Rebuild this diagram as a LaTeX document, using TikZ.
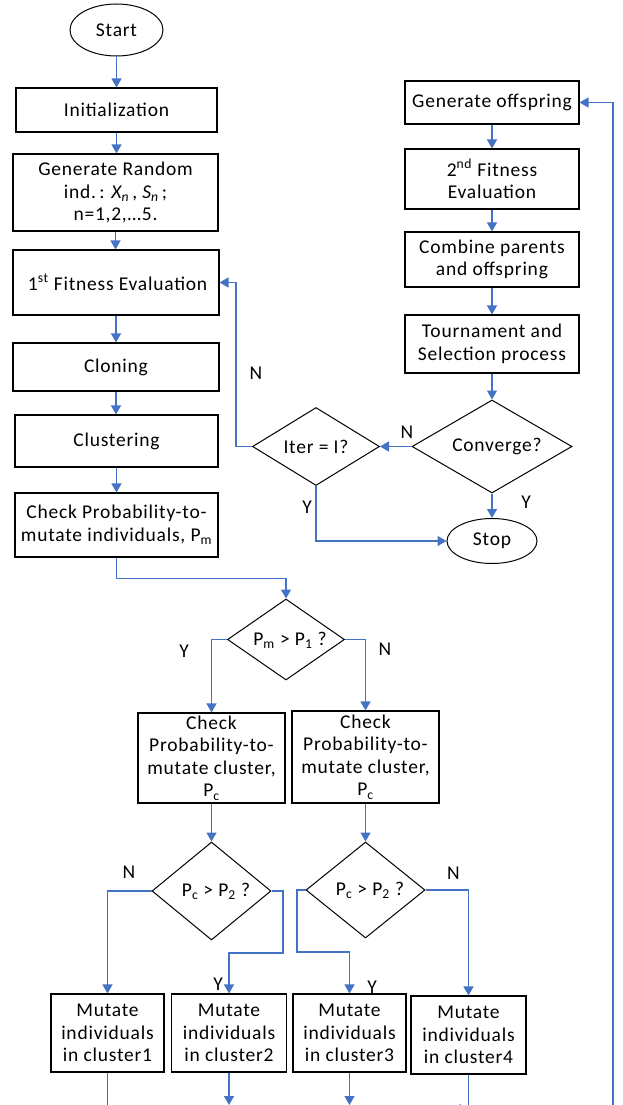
\documentclass[tikz,border=0pt]{standalone}
\usepackage{fontspec}
\setmainfont[LetterSpace=4]{Carlito}
\usetikzlibrary{shapes.geometric,arrows.meta}
\definecolor{flowblue}{HTML}{4472C4}
\begin{document}
\begin{tikzpicture}[x=1pt,y=-1pt,
  font=\fontsize{19.5}{22.5}\selectfont,
  box/.style={draw=black, line width=1.1pt, rectangle, inner sep=0pt, align=center},
  dia/.style={draw=black, line width=1pt, diamond, inner sep=0pt},
  term/.style={draw=black, line width=1pt, ellipse, inner sep=0pt},
  conn/.style={draw=flowblue, line width=1.3pt},
  arr/.style={conn, -{Triangle[length=9pt,width=10pt]}},
  lbl/.style={inner sep=0pt},
  txt/.style={inner sep=0pt, align=center}
]
\useasboundingbox (0,0) rectangle (623,1105);
\clip (0,0) rectangle (623,1105);

% ---------- left column ----------
\node[term, minimum width=93pt, minimum height=52pt] (start) at (116.5,30) {Start};
\node[box, minimum width=201pt, minimum height=44pt] (init) at (116.5,110) {Initialization};
\node[box, minimum width=205pt, minimum height=77pt] (genrand) at (115.5,192.5)
  {Generate Random\\ind.\,: \textit{X\textsubscript{n}}\,, \textit{S\textsubscript{n}}\,;\\n=1,2,\ldots5.};
\node[box, minimum width=206pt, minimum height=65pt] (fit1) at (116,282.5) {\,1\textsuperscript{st} Fitness Evaluation};
\node[box, minimum width=206pt, minimum height=48pt] (clone) at (116,367) {Cloning};
\node[box, minimum width=203pt, minimum height=52pt] (clus) at (116.5,441) {Clustering};
\node[box, minimum width=203pt, minimum height=64pt] (chkpm) at (116.5,525)
  {Check Probability-to-\\mutate individuals, P\textsubscript{m}};

% ---------- right column ----------
\node[box, minimum width=174pt, minimum height=43pt] (genoff) at (492,102.5) {Generate offspring};
\node[box, minimum width=174pt, minimum height=60pt] (fit2) at (492,179) {2\textsuperscript{nd} Fitness\\Evaluation};
\node[box, minimum width=174pt, minimum height=55pt] (comb) at (492,259.5) {Combine parents\\and offspring};
\node[box, minimum width=174pt, minimum height=58pt] (tour) at (492,344) {Tournament and\\Selection process};
\node[dia, minimum width=160pt, minimum height=93pt] (conv) at (492,446.5) {};
\node[txt] (convT) at (497,446.5) {Converge?};
\node[dia, minimum width=127pt, minimum height=78pt] (iter) at (316,446.5) {};
\node[txt] (iterT) at (316,446.5) {Iter = I?};
\node[term, minimum width=90pt, minimum height=45pt] (stop) at (492,541) {Stop};

% ---------- lower part ----------
\node[dia, minimum width=117pt, minimum height=81pt] (pm) at (286,639.5) {};
\node[txt] (pmT) at (290,640) {P\textsubscript{m} > P\textsubscript{1} ?};
\node[box, minimum width=147pt, minimum height=90pt] (chkc1) at (211.5,758)
  {Check\\Probability-to-\\mutate cluster,\\P\textsubscript{c}};
\node[box, minimum width=147pt, minimum height=92pt] (chkc2) at (365.5,757)
  {Check\\Probability-to-\\mutate cluster,\\P\textsubscript{c}};
\node[dia, minimum width=119pt, minimum height=98pt] (pc1) at (211.5,891) {};
\node[txt] (pc1T) at (216,891) {P\textsubscript{c} > P\textsubscript{2} ?};
\node[dia, minimum width=119pt, minimum height=96pt] (pc2) at (365.5,890) {};
\node[txt] (pc2T) at (370,890) {P\textsubscript{c} > P\textsubscript{2} ?};
\node[box, minimum width=113pt, minimum height=78pt] (m1) at (107.5,1033) {Mutate\\individuals\\in cluster1};
\node[box, minimum width=114.5pt, minimum height=78pt] (m2) at (229,1033) {Mutate\\individuals\\in cluster2};
\node[box, minimum width=113pt, minimum height=78pt] (m3) at (349.5,1033) {Mutate\\individuals\\in cluster3};
\node[box, minimum width=115pt, minimum height=78pt] (m4) at (468.5,1035) {Mutate\\individuals\\in cluster4};

% ---------- helper coordinates ----------
\coordinate (k1) at (283,953);
\coordinate (k2) at (297,952);
\coordinate (k3) at (236,282.5);
\coordinate (b1) at (107.5,1112);
\coordinate (b2) at (229,1105);
\coordinate (b3) at (349.5,1105);
\coordinate (b4) at (468.5,1112);
\coordinate (b5) at (400,1109);
\coordinate (b6) at (613,1112);

% ---------- connectors ----------
\draw[arr] (start.south) -- (start.south |- init.north);
\draw[arr] (init.south) -- (init.south |- genrand.north);
\draw[arr] (genrand.south) -- (genrand.south |- fit1.north);
\draw[arr] (fit1.south) -- (fit1.south |- clone.north);
\draw[arr] (clone.south) -- (clone.south |- clus.north);
\draw[arr] (clus.south) -- (clus.south |- chkpm.north);
\draw[arr] (chkpm.south) -- ++(0,21) -| (pm.north);

\draw[arr] (genoff.south) -- (genoff.south |- fit2.north);
\draw[arr] (fit2.south) -- (fit2.south |- comb.north);
\draw[arr] (comb.south) -- (comb.south |- tour.north);
\draw[arr] (tour.south) -- (tour.south |- conv.north);
\draw[arr] (conv.south) -- (conv.south |- stop.north);
\draw[arr] (conv.west) -- (conv.west -| iter.east);
\draw[arr] (iter.south) |- (stop.west);
\draw[arr] (iter.west) -| (k3) -- (fit1.east);
\draw[arr] (b6) |- (genoff.east);

\draw[arr] (pm.west) -| (chkc1.north);
\draw[arr] (pm.east) -| (chkc2.north);
\draw[arr] (chkc1.south) -- (chkc1.south |- pc1.north);
\draw[arr] (chkc2.south) -- (chkc2.south |- pc2.north);
\draw[arr] (pc1.west) -| (m1.north);
\draw[arr] (pc1.east) -| (k1) -| (m2.north);
\draw[arr] (pc2.west) -| (k2) -| (m3.north);
\draw[arr] (pc2.east) -| (m4.north);

\draw[conn] (m1.south) -- (b1);
\draw[arr] (m2.south) -- (b2);
\draw[arr] (m3.south) -- (b3);
\draw[conn] (m4.south) -- (b4);
\draw[arr] (b5) -- (b5 -| m4.south);

% ---------- labels ----------
\node[lbl] (lN1) at (256,373) {N};
\node[lbl] (lN2) at (407,432) {N};
\node[lbl] (lY1) at (307,507) {Y};
\node[lbl] (lY2) at (526,502) {Y};
\node[lbl] (lY3) at (184,651) {Y};
\node[lbl] (lN3) at (385,649) {N};
\node[lbl] (lN4) at (129,872) {N};
\node[lbl] (lN5) at (453.5,873) {N};
\node[lbl] (lY4) at (218,984) {Y};
\node[lbl] (lY5) at (372,987) {Y};
\end{tikzpicture}
\end{document}
